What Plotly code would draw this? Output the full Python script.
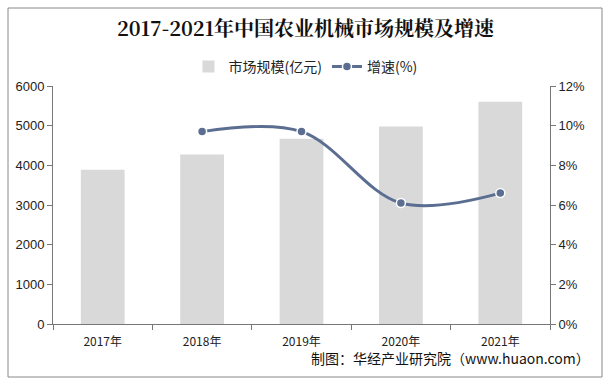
import plotly.graph_objects as go

categories = ["2017年", "2018年", "2019年", "2020年", "2021年"]
market_size = [3890, 4270, 4670, 4980, 5600]
growth_years = ["2018年", "2019年", "2020年", "2021年"]
growth_rate = [9.7, 9.7, 6.1, 6.6]
left_ticks = [0, 1000, 2000, 3000, 4000, 5000, 6000]
right_ticks = [0, 2, 4, 6, 8, 10, 12]

fig = go.Figure()
fig.add_trace(go.Bar(
    x=categories, y=market_size, name="市场规模(亿元)",
    marker=dict(color="#d9d9d9", line=dict(width=0)), width=0.44, yaxis="y"))
fig.add_trace(go.Scatter(
    x=growth_years, y=growth_rate, name="增速(%)", yaxis="y2",
    mode="lines+markers", line=dict(color="#5b6e91", width=3, shape="spline", smoothing=1.0),
    marker=dict(size=9, color="#5b6e91", line=dict(color="white", width=1.5))))

axis_font = dict(family="Liberation Sans, Arial, sans-serif", size=13, color="#222")
fig.update_layout(
    width=611, height=386,
    margin=dict(l=53, r=61, t=86, b=62, autoexpand=False),
    paper_bgcolor="white", plot_bgcolor="white",
    title=dict(text="<b>2017-2021年中国农业机械市场规模及增速</b>", x=0.5, xanchor="center",
               y=1 - 29 / 386, yanchor="middle", yref="container",
               font=dict(family="Noto Serif CJK SC, Noto Sans CJK SC, serif", size=20, color="#111")),
    legend=dict(orientation="h", x=0.5, xanchor="center", y=1 - 67 / 386, yanchor="middle",
                yref="container", xref="container",
                font=dict(family="Noto Sans CJK SC", size=14, color="#222"),
                bgcolor="rgba(0,0,0,0)", traceorder="normal", itemwidth=30),
    showlegend=True,
    bargap=0.56,
    xaxis=dict(showline=True, linecolor="#777", linewidth=1, ticks="outside", tickson="boundaries",
               tickcolor="#777", ticklen=5, ticklabelstandoff=7,
               tickfont=dict(family="Noto Sans CJK SC, Liberation Sans", size=12, color="#222"),
               showgrid=False, zeroline=False),
    yaxis=dict(range=[0, 6000], tickvals=left_ticks, showline=True, linecolor="#777", linewidth=1,
               ticks="outside", tickcolor="#777", ticklen=5, tickfont=axis_font,
               showgrid=False, zeroline=False),
    yaxis2=dict(range=[0, 12], tickvals=right_ticks, ticktext=[f"{v}%" for v in right_ticks],
                overlaying="y", side="right", showline=True, linecolor="#777", linewidth=1,
                ticks="outside", tickcolor="#777", ticklen=5, tickfont=axis_font,
                showgrid=False, zeroline=False),
)

fig.add_shape(type="rect", xref="paper", yref="paper",
              x0=-45 / 497, x1=(602 - 53) / 497, y0=-(377 - 324) / 238, y1=1 + (86 - 8) / 238,
              line=dict(color="#888", width=1), fillcolor="rgba(0,0,0,0)", layer="below")

fig.add_annotation(text="制图：华经产业研究院（www.huaon.com）", xref="paper", yref="paper",
                   x=(592 - 53) / 497, xanchor="right", y=-(358 - 324) / 238, yanchor="middle",
                   showarrow=False, font=dict(family="Noto Sans CJK SC", size=14, color="#111"))

fig.write_html("out.html", post_script="document.body.style.margin='0';",
               config={"displayModeBar": False})
